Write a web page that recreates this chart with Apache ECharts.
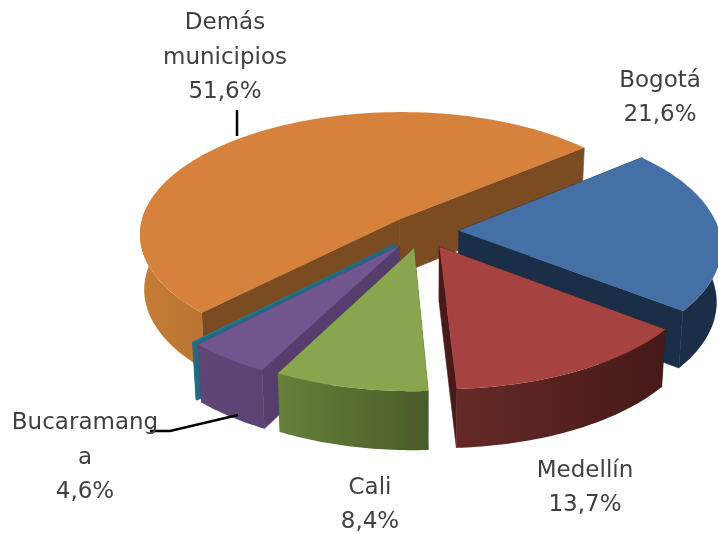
<!DOCTYPE html>
<html><head><meta charset="utf-8">
<style>html,body{margin:0;padding:0;background:#fff}#c{width:718px;height:534px}</style>
<script src="https://cdn.jsdelivr.net/npm/echarts@6/dist/echarts.min.js"></script>
</head><body><div id="c"></div>
<script>
// Data
const categories = ['Bogotá', 'Medellín', 'Cali', 'Bucaramanga', 'Otros', 'Demás municipios'];
const shares = [21.6, 13.7, 8.4, 4.6, 0.1, 51.6];
const labelNames = ['Bogotá', 'Medellín', 'Cali', 'Bucaramang\na', '', 'Demás\nmunicipios'];

// Style and layout
const startAngle = 50;
const explode = [37, 37, 37, 38, 38, 34];
const paintOrder = [5, 0, 1, 4, 3, 2];
const topColors = ['#4470A6', '#A6423F', '#89A54E', '#71558F', '#2B7F93', '#D7823C'];
const sideColors = ['#1A2E47', '#4A1A18', '#4F6230', '#553E6D', '#1F6C80', '#7B4B22'];
const outerColors = [['#1A2E47', '#1A2E47'], ['#652927', '#451A18'], ['#66803A', '#4A5C2A'],
  ['#5E4678', '#5A4272'], ['#1F7086', '#1F7086'], ['#C67E36', '#BA7430']];
const labelPos = [[660, 98], [585, 488], [370, 505], [85, 458], null, [225, 58]];
const geo = {cx: 422, cy: 231, R: 260, tilt: 0.47, k: 0.115, depth: 55};

function project(X, Y, Z) {
  const s = 1 / (1 - geo.k * Y);
  return [
    geo.cx + geo.R * X * s * (1 - 0.015 * Z),
    geo.cy + geo.R * geo.tilt * Y * s * (1 + 0.025 * Z) + geo.depth * Z
  ];
}
const rad = d => d * Math.PI / 180;
const total = shares.reduce((a, b) => a + b, 0);
const spans = [];
let acc = startAngle;
shares.forEach(v => { const a = v / total * 360; spans.push([acc, acc + a]); acc += a; });

function sliceShapes(i, order) {
  const [a0, a1] = spans[i];
  const mid = rad((a0 + a1) / 2);
  const ex = explode[i] / geo.R * Math.sin(mid), ey = -explode[i] / geo.R * Math.cos(mid);
  const rim = (a, z) => project(ex + Math.sin(rad(a)), ey - Math.cos(rad(a)), z);
  const apex = z => project(ex, ey, z);
  const arc = (from, to, z) => {
    const pts = [], n = Math.max(2, Math.ceil(Math.abs(to - from)));
    for (let j = 0; j <= n; j++) pts.push(rim(from + (to - from) * j / n, z));
    return pts;
  };
  const out = [];
  const poly = (points, fill, part, stroke) => out.push({
    type: 'polygon', z2: order * 10 + part, shape: {points},
    style: {fill, stroke: stroke || null, lineWidth: stroke ? 0.6 : 0}, silent: true
  });
  // radial side walls
  poly([apex(0), rim(a0, 0), rim(a0, 1), apex(1)], sideColors[i], 0, sideColors[i]);
  poly([apex(0), rim(a1, 0), rim(a1, 1), apex(1)], sideColors[i], 1, sideColors[i]);
  // outer wall: the part that faces the viewer
  const v0 = Math.max(a0, 85), v1 = Math.min(a1, 275);
  if (v1 > v0) {
    poly(arc(v0, v1, 0).concat(arc(v1, v0, 1)), new echarts.graphic.LinearGradient(0, 0, 1, 0, [
      {offset: 0, color: outerColors[i][0]}, {offset: 1, color: outerColors[i][1]}
    ]), 2);
  }
  // top face
  poly([apex(0)].concat(arc(a0, a1, 0)), topColors[i], 3);
  return out;
}

const chart = echarts.init(document.getElementById('c'));
const labelStyle = {fontFamily: '"DejaVu Sans", sans-serif', fontSize: 23, lineHeight: 34.5, fill: '#404040', align: 'center', verticalAlign: 'middle'};
chart.setOption({
  animation: false,
  backgroundColor: '#fff',
  series: [{
    type: 'custom',
    coordinateSystem: 'none',
    silent: true,
    data: paintOrder.map(i => ({name: categories[i], value: shares[i], sliceIndex: i})),
    renderItem(params) {
      const order = params.dataIndex;
      return {type: 'group', children: sliceShapes(paintOrder[order], order)};
    }
  }],
  graphic: [
    {type: 'polyline', z: 20, shape: {points: [[237, 110], [237, 136]]}, style: {stroke: '#000', lineWidth: 2.5, fill: null}},
    {type: 'polyline', z: 20, shape: {points: [[150, 431], [170, 431], [238, 415]]}, style: {stroke: '#000', lineWidth: 2.5, fill: null}}
  ].concat(shares.map((v, i) => labelPos[i] && ({
    type: 'text', z: 30, x: labelPos[i][0], y: labelPos[i][1],
    style: Object.assign({text: labelNames[i] + '\n' + v.toFixed(1).replace('.', ',') + '%'}, labelStyle)
  })).filter(Boolean))
});
</script></body></html>
